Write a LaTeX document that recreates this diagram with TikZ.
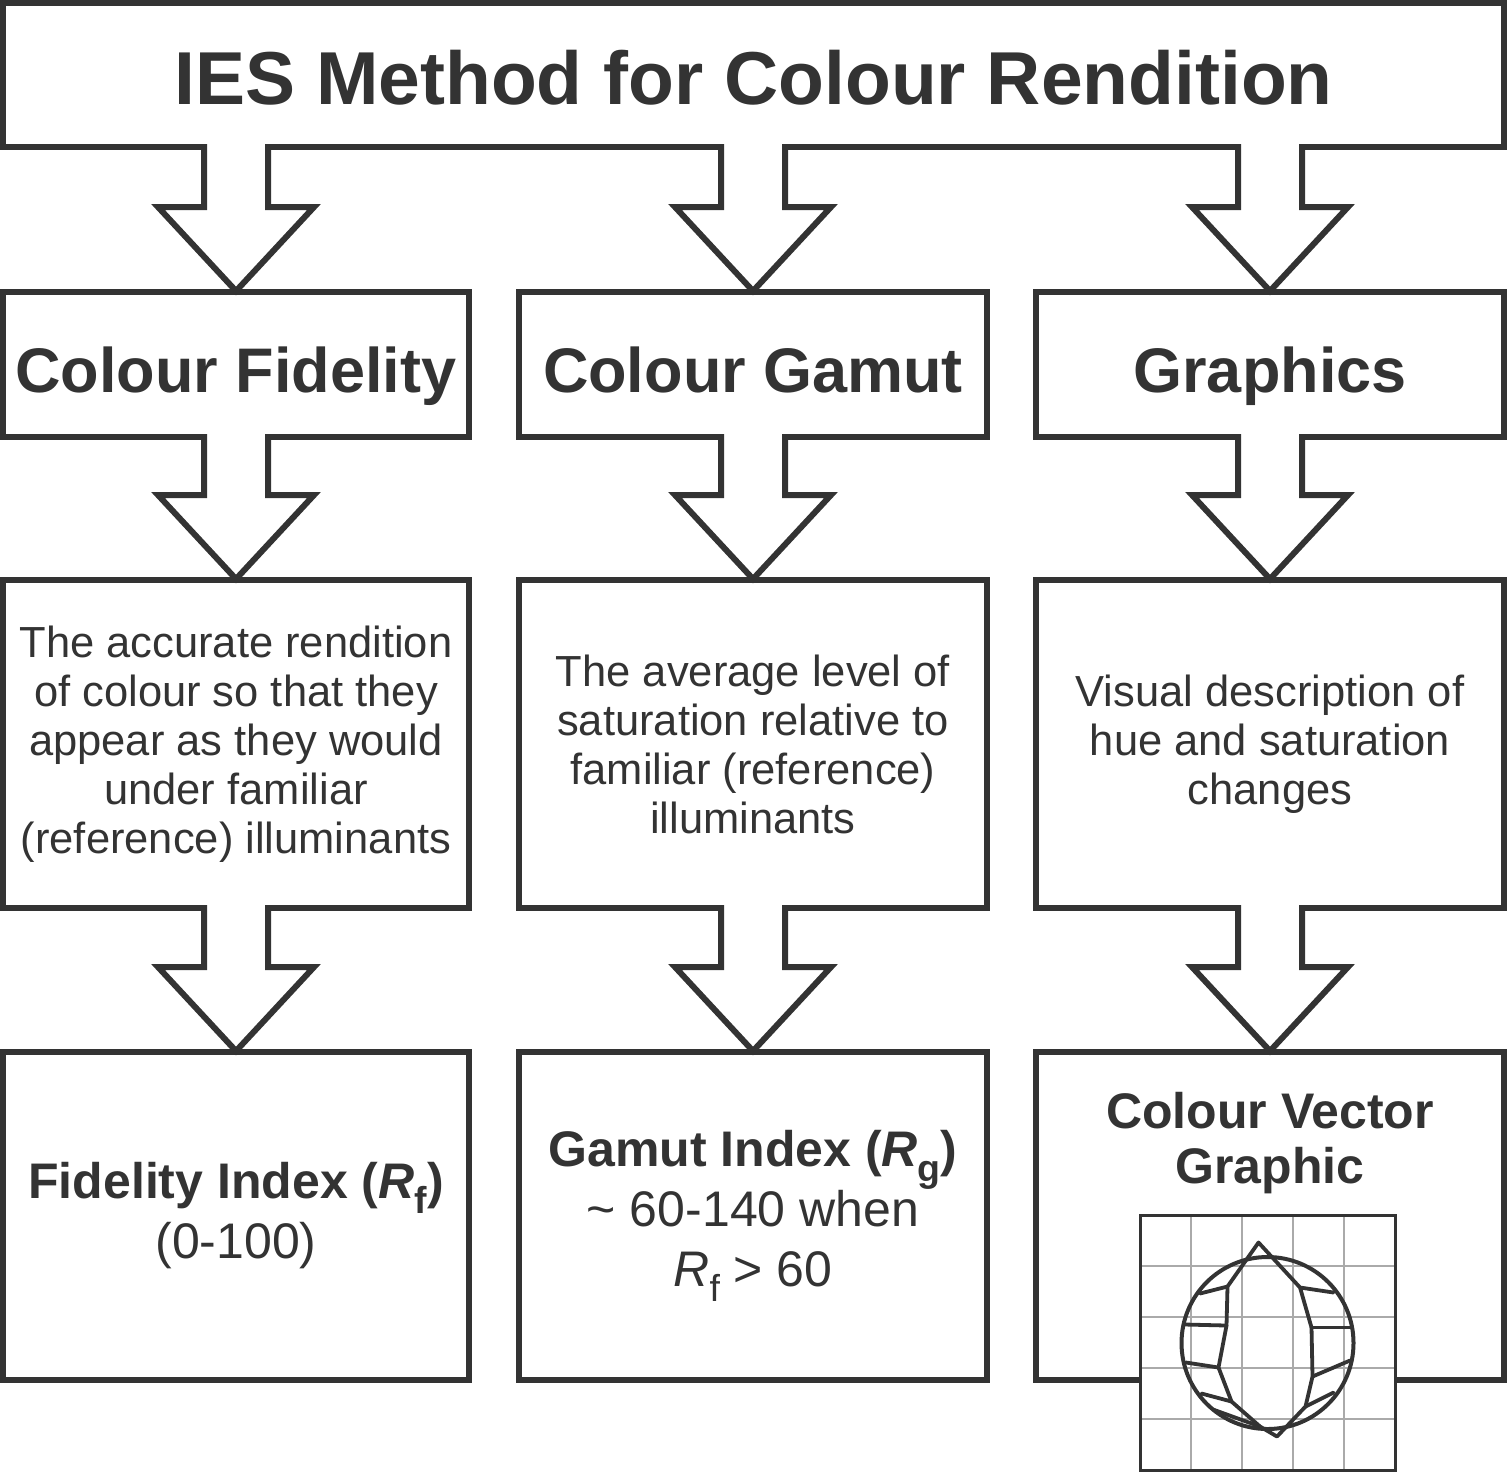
\documentclass[tikz,border=0pt]{standalone}
\usepackage{fontspec}
\setmainfont{Liberation Sans}
\usetikzlibrary{calc}
\definecolor{inkgrey}{RGB}{51,51,51}
\definecolor{gridgrey}{RGB}{170,170,170}

% lowered index subscript
\newcommand{\idxsub}[1]{\raisebox{-0.3em}{\scalebox{0.75}{#1}}}

% hollow block arrow from the bottom of #1 to the top of #2
\newcommand{\blockarrow}[2]{%
  \fill[white] ($(#2.north |- #1.south)+(-29,-3)$) rectangle ($(#2.north |- #1.south)+(29,3)$);
  \draw[arrowline] ($(#2.north |- #1.south)+(-32,-3)$) |- ($(#2.north)+(-78,-85)$)
    -- ($(#2.north)+(0,-1)$) -- ($(#2.north)+(78,-85)$) -| ($(#2.north |- #1.south)+(32,-3)$);
}

\begin{document}
\begin{tikzpicture}[x=0.5pt, y=-0.5pt,
  box/.style={draw=inkgrey, line width=3pt, outer sep=0pt, inner sep=2pt,
              align=center, text=inkgrey},
  titlebox/.style={box, minimum width=750.5pt, minimum height=72pt,
                   text height=29pt, text depth=0pt,
                   font=\fontsize{37.5}{45}\selectfont\bfseries},
  headbox/.style={box, minimum height=72.5pt, text height=27.5pt, text depth=0pt,
                  font=\fontsize{31.5}{38}\selectfont\bfseries},
  textbox/.style={box, minimum height=164pt, font=\fontsize{21.75}{24.5}\selectfont},
  indexbox/.style={box, minimum height=164pt, font=\fontsize{25}{30}\selectfont},
  arrowline/.style={draw=inkgrey, line width=3pt, line join=miter}]

  \useasboundingbox (0,0) rectangle (1507,1473);

  \node[titlebox] (title) at (753.5,75) {IES Method for Colour Rendition};

  % headings
  \node[headbox, minimum width=233pt] (fid) at (236,364.5) {Colour Fidelity};
  \node[headbox, minimum width=234pt] (gam) at (753,364.5) {Colour Gamut};
  \node[headbox, minimum width=234pt] (gra) at (1270,364.5) {Graphics};

  % descriptions
  \node[textbox, minimum width=233pt] (fiddesc) at (236,744)
    {The accurate rendition\\of colour so that they\\appear as they would\\under familiar\\(reference) illuminants};
  \node[textbox, minimum width=234pt] (gamdesc) at (753,744)
    {The average level of\\saturation relative to\\familiar (reference)\\illuminants};
  \node[textbox, minimum width=234pt] (gradesc) at (1270,744)
    {Visual description of\\hue and saturation\\changes};

  % indices
  \node[indexbox, minimum width=233pt] (fidindex) at (236,1216)
    {\textbf{Fidelity Index (\textit{R}\idxsub{f})}\\(0-100)};
  \node[indexbox, minimum width=234pt] (gamindex) at (753,1216)
    {\textbf{Gamut Index (\textit{R}\idxsub{g})}\\\textasciitilde{} 60-140 when\\\textit{R}\idxsub{f} > 60};
  \node[indexbox, minimum width=234pt] (cvg) at (1270,1216) {};
  \node[text=inkgrey, align=center, font=\fontsize{25}{27.5}\selectfont\bfseries] (cvgtext)
    at (1270,1143) {Colour Vector\\Graphic};

  \blockarrow{title}{fid}
  \blockarrow{title}{gam}
  \blockarrow{title}{gra}
  \blockarrow{fid}{fiddesc}
  \blockarrow{gam}{gamdesc}
  \blockarrow{gra}{gradesc}
  \blockarrow{fiddesc}{fidindex}
  \blockarrow{gamdesc}{gamindex}
  \blockarrow{gradesc}{cvg}

  % colour vector graphic
  \begin{scope}[shift={(1267.5,1342.5)}]
    \fill[white] (-127.5,-127.5) rectangle (127.5,127.5);
    \foreach \k in {-1.5,-0.5,0.5,1.5} {
      \draw[gridgrey, line width=1pt] (\k*51,-127.5) -- (\k*51,127.5);
      \draw[gridgrey, line width=1pt] (-127.5,\k*51) -- (127.5,\k*51);
    }
    \draw[inkgrey, line width=1.5pt] (-127.5,-127.5) rectangle (127.5,127.5);
    \draw[inkgrey, line width=2pt] (0,0.5) circle[radius=43pt];
    \draw[inkgrey, line width=1.9pt, line join=round]
      (-9,-100) -- (32.5,-55) -- (44,-15) -- (45,34) -- (38,64) -- (9.5,94)
      -- (-7.5,84) -- (-36,59) -- (-49,25) -- (-41,-17) -- (-40,-56) -- cycle;
    \foreach \cx/\cy/\px/\py in {66/-50/32.5/-55, 82.5/-15/44/-15, 82.5/18/45/34,
        66/50/38/64, -54.5/67/-7.5/84, -66/51/-36/59, -81.5/20/-49/25,
        -82.5/-18/-41/-17, -67.5/-49/-40/-56}
      \draw[inkgrey, line width=1.9pt, line cap=round] (\cx,\cy) -- (\px,\py);
  \end{scope}
\end{tikzpicture}
\end{document}
